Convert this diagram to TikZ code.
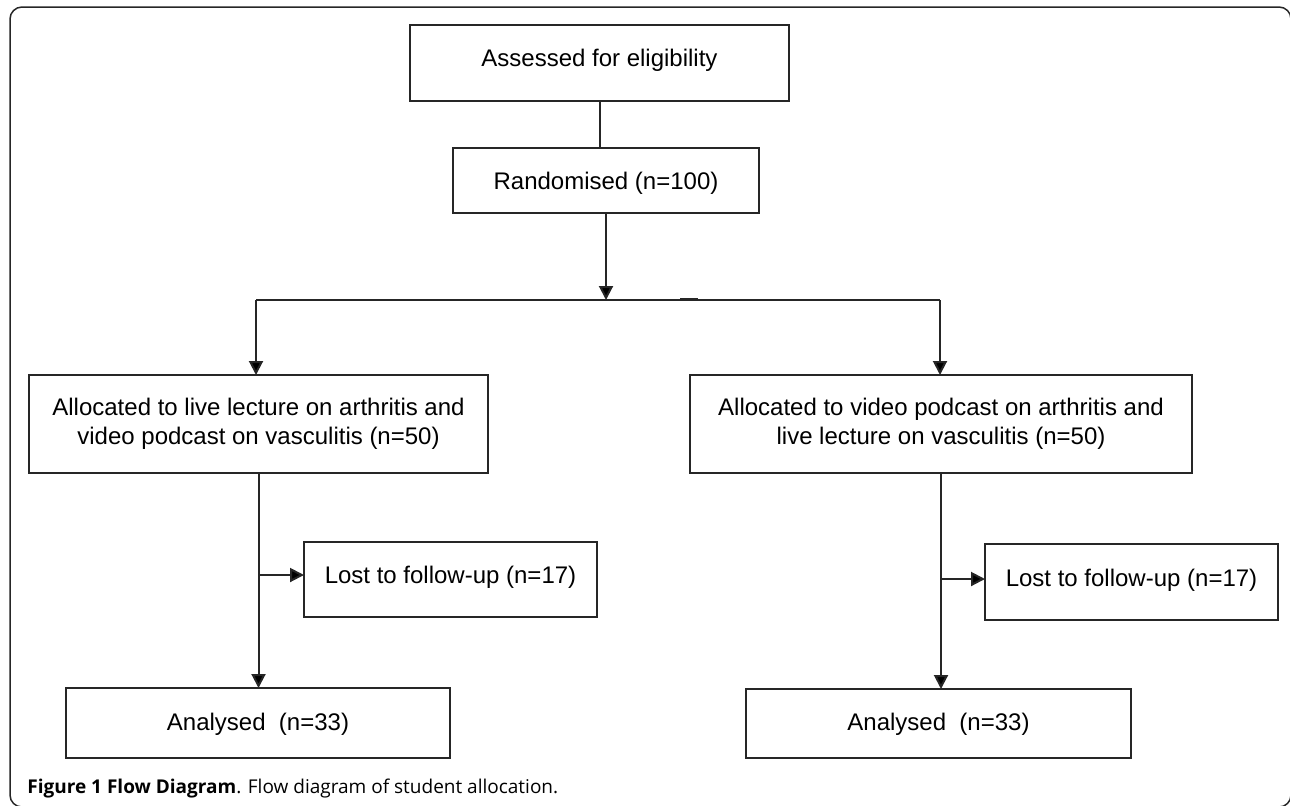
\documentclass[tikz,border=0pt]{standalone}
\usepackage{fontspec}
\setmainfont{Liberation Sans}
\newfontfamily\captionfont{Open Sans}
\usetikzlibrary{positioning, arrows.meta}
\tikzset{
>={Triangle[length=7pt, width=7pt]}, % filled arrow heads
box/.style={draw=black!85, line width=1pt, inner sep=0pt, outer sep=0pt, align=center, font=\fontsize{12}{14.5}\selectfont}, % every box of the flow
oneline/.style={text height=9pt, text depth=#1}, % moves a one-line text up or down in its box
flow/.style={draw=black!85, line width=1pt}, % the connecting lines
}

\begin{document}
\begin{tikzpicture}[x=0.5pt, y=-0.5pt]
    \useasboundingbox (0,0) rectangle (1290,805);
    \draw[black!85, line width=0.75pt, rounded corners=6pt] (10,7) rectangle (1291,807);

    \node[box, oneline=5.9pt, minimum width=189.5pt, minimum height=38pt] (assess) at (599.5,63) {Assessed for eligibility};
    \node[box, oneline=0.4pt, minimum width=153pt, minimum height=32.5pt, below=23.5pt of assess, xshift=3.25pt] (rand) {Randomised (n=100)};
    \node[box, minimum width=229.5pt, minimum height=49pt] (allocL) at (258.5,424) {Allocated to live lecture on arthritis and\\video podcast on vasculitis (n=50)};
    \node[box, minimum width=251pt, minimum height=49pt] (allocR) at (941,424) {Allocated to video podcast on arthritis and\\live lecture on vasculitis (n=50)};
    \node[box, oneline=5.4pt, minimum width=146.5pt, minimum height=37.5pt] (lostL) at (450.5,579.5) {Lost to follow-up (n=17)};
    \node[box, oneline=4.4pt, minimum width=146.5pt, minimum height=38pt] (lostR) at (1131.5,582) {Lost to follow-up (n=17)};
    \node[box, oneline=1.9pt, minimum width=192pt, minimum height=35pt, below=107.5pt of allocL, xshift=-0.25pt] (analysedL) {Analysed\ \ (n=33)};
    \node[box, oneline=1.9pt, minimum width=192.5pt, minimum height=34.5pt, below=108pt of allocR, xshift=-1.25pt] (analysedR) {Analysed\ \ (n=33)};

    \coordinate (split) at (605,300);
    \coordinate (forkL) at (256,300);
    \coordinate (forkR) at (940,300);
    \coordinate (lostLin) at ([yshift=2.25pt]lostL.west);
    \coordinate (lostRin) at ([yshift=1.5pt]lostR.west);

    \draw[flow]
        (assess.south) edge (assess.south |- rand.north)
        (rand.south) edge[->] (rand.south |- split)
        (forkL) edge (forkR)
        (forkL) edge[->] (forkL |- allocL.north)
        (forkR) edge[->] (forkR |- allocR.north)
        (allocL.south) edge[->] (allocL.south |- analysedL.north)
        (allocL.south |- lostLin) edge[->] (lostLin)
        (allocR.south) edge[->] (allocR.south |- analysedR.north)
        (allocR.south |- lostRin) edge[->] (lostRin)
    ;
    \draw[black!85, line width=1.4pt] (680,299) -- (698,299);

    \node[anchor=base west, inner sep=0pt, font=\captionfont\fontsize{9.5}{11}\selectfont] (caption) at (27,793) {\textbf{Figure 1 Flow Diagram}. Flow diagram of student allocation.};
\end{tikzpicture}
\end{document}
